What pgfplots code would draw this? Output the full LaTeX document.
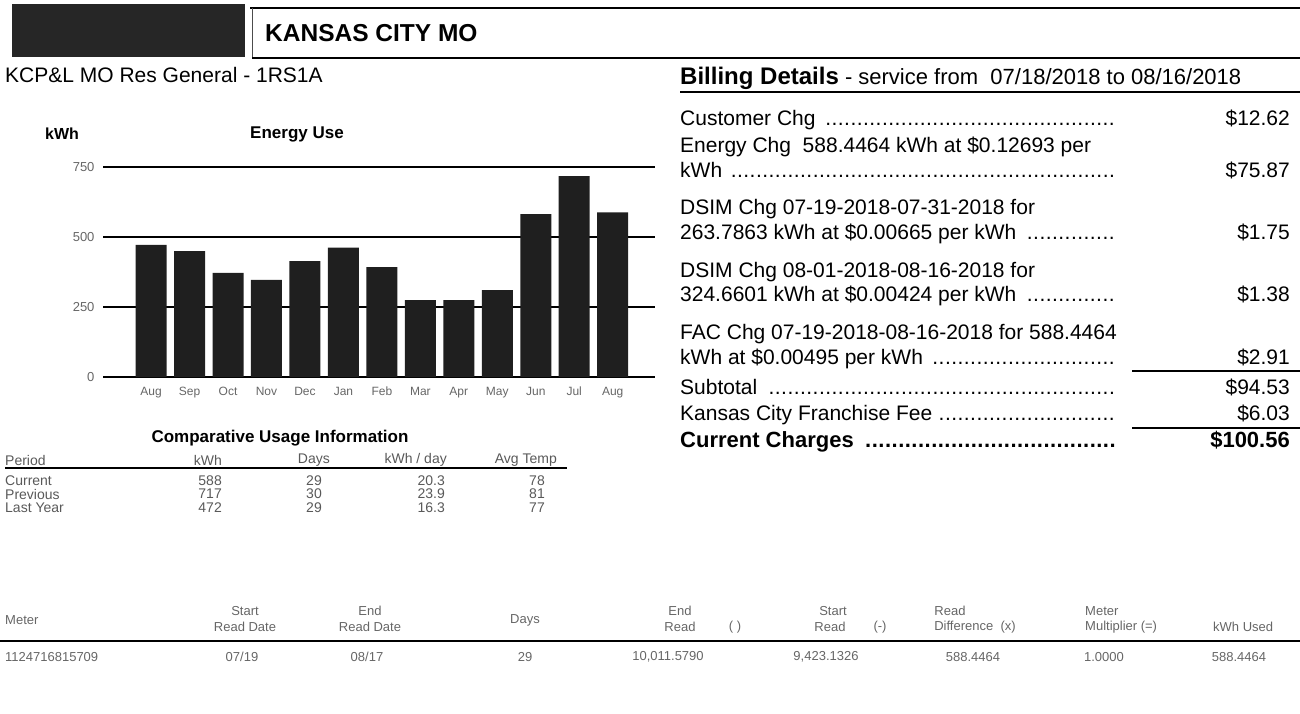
\documentclass[border=0pt]{standalone}
\usepackage{pgfplots}
\pgfplotsset{compat=1.18}
\usepackage{fontspec}
\setmainfont{Liberation Sans}
\newcommand{\fs}[1]{\fontsize{#1}{#1}\selectfont}
\newcommand{\lead}{\leaders\hbox to 0.3em{\hss.\hss}\hfill}
\begin{document}
\begin{tikzpicture}
\begin{axis}[
  at={(103pt,-377pt)}, anchor=south west, scale only axis,
  width=552pt, height=210pt,
  xmin=-1.25, xmax=13.1, ymin=0, ymax=750,
  axis line style={draw=none},
  /pgf/number format/assume math mode=true,
  ytick={0,250,500}, extra y ticks={750},
  extra y tick style={grid style={black,line width=2.8pt}},
  ymajorgrids, grid style={black, line width=1.4pt},
  major tick length=0pt,
  xtick={0,...,12},
  xticklabels={Aug,Sep,Oct,Nov,Dec,Jan,Feb,Mar,Apr,May,Jun,Jul,Aug},
  xticklabel style={font=\fs{12}, text=black!60, yshift=-6pt, text height=9pt, text depth=2pt},
  yticklabel style={font=\fs{13}, text=black!60, xshift=-5pt},
  ybar, bar width=31pt,
  clip=false,
]
\addplot[fill=black!88, draw=none] coordinates {
(0,472) (1,450) (2,372) (3,347) (4,414) (5,462) (6,392)
(7,275) (8,275) (9,310) (10,582) (11,717) (12,588)};
\end{axis}
\begin{scope}[x=1pt,y=-1pt,every node/.style={inner sep=0pt}]
\path[use as bounding box] (0,0) rectangle (1300,713);
% header
\fill[black!85] (12,4) rectangle (245,57);
\draw[line width=2pt] (250,8) -- (1300,8);
\draw[line width=0.6pt,black!70] (252,8) -- (252,58);
\draw[line width=1.2pt] (252,58) -- (1300,58);
\node[anchor=west,font=\fs{24.5}\bfseries] at (265,33) {KANSAS CITY MO};
\node[anchor=west,font=\fs{21}] at (5,75) {KCP\&L MO Res General - 1RS1A};
% chart titles
\node[font=\fs{16}\bfseries] at (62,134) {kWh};
\node[font=\fs{17}\bfseries] at (297,134) {Energy Use};
% comparative usage
\node[font=\fs{17}\bfseries] at (280,438) {Comparative Usage Information};
\begin{scope}[every node/.style={inner sep=0pt,font=\fs{14},text=black!65}]
\node[anchor=west] at (5,460) {Period};
\node[anchor=east] at (222,460) {kWh};
\node[anchor=east] at (330,460) {Days};
\node[anchor=east] at (447,460) {kWh / day};
\node[anchor=east] at (557,460) {Avg Temp};
\node[anchor=west] at (5,481) {Current};
\node[anchor=west] at (5,494) {Previous};
\node[anchor=west] at (5,508) {Last Year};
\node[anchor=east] at (222,481) {588};
\node[anchor=east] at (222,494) {717};
\node[anchor=east] at (222,508) {472};
\node[anchor=east] at (322,481) {29};
\node[anchor=east] at (322,494) {30};
\node[anchor=east] at (322,508) {29};
\node[anchor=east] at (445,481) {20.3};
\node[anchor=east] at (445,494) {23.9};
\node[anchor=east] at (445,508) {16.3};
\node[anchor=east] at (545,481) {78};
\node[anchor=east] at (545,494) {81};
\node[anchor=east] at (545,508) {77};
\end{scope}
\draw[line width=1.2pt] (5,468) -- (567,468);
% billing details
\node[anchor=base west] at (680,84) {\fs{24}\textbf{Billing Details}\fs{22} - service from\ \ 07/18/2018 to 08/16/2018};
\draw[line width=1.8pt] (680,92) -- (1300,92);
\begin{scope}[every node/.style={inner sep=0pt,font=\fs{21}}]
\node[anchor=base west] at (680,125) {\makebox[440pt][l]{Customer Chg \lead}};
\node[anchor=base east] at (1290,125) {\$12.62};
\node[anchor=base west] at (680,152) {Energy Chg\ \ 588.4464 kWh at \$0.12693 per};
\node[anchor=base west] at (680,177) {\makebox[440pt][l]{kWh \lead}};
\node[anchor=base east] at (1290,177) {\$75.87};
\node[anchor=base west] at (680,214) {DSIM Chg 07-19-2018-07-31-2018 for};
\node[anchor=base west] at (680,239) {\makebox[440pt][l]{263.7863 kWh at \$0.00665 per kWh \lead}};
\node[anchor=base east] at (1290,239) {\$1.75};
\node[anchor=base west] at (680,277) {DSIM Chg 08-01-2018-08-16-2018 for};
\node[anchor=base west] at (680,301) {\makebox[440pt][l]{324.6601 kWh at \$0.00424 per kWh \lead}};
\node[anchor=base east] at (1290,301) {\$1.38};
\node[anchor=base west] at (680,339) {FAC Chg 07-19-2018-08-16-2018 for 588.4464};
\node[anchor=base west] at (680,364) {\makebox[440pt][l]{kWh at \$0.00495 per kWh \lead}};
\node[anchor=base east] at (1290,364) {\$2.91};
\node[anchor=base west] at (680,394) {\makebox[440pt][l]{Subtotal \lead}};
\node[anchor=base east] at (1290,394) {\$94.53};
\node[anchor=base west] at (680,420) {\makebox[440pt][l]{Kansas City Franchise Fee \lead}};
\node[anchor=base east] at (1290,420) {\$6.03};
\node[anchor=base west,font=\fs{22}\bfseries] at (680,447) {\makebox[440pt][l]{Current Charges \lead}};
\node[anchor=base east,font=\fs{22}\bfseries] at (1290,447) {\$100.56};
\end{scope}
\draw[line width=1.5pt] (1132,371) -- (1300,371);
\draw[line width=1.5pt] (1132,428) -- (1300,428);
% meter table
\begin{scope}[every node/.style={inner sep=0pt,font=\fs{13},text=black!60}]
\node[anchor=west] at (5,620) {Meter};
\node at (245,611) {Start};
\node at (245,627) {Read Date};
\node at (370,611) {End};
\node at (370,627) {Read Date};
\node at (525,620) {Days};
\node at (680,611) {End};
\node at (680,627) {Read};
\node at (735,627) {( )};
\node at (833,611) {Start};
\node at (830,627) {Read};
\node at (880,627) {(-)};
\node at (950,611) {Read};
\node at (975,627) {Difference\ \ (x)};
\node[anchor=west] at (1085,611) {Meter};
\node[anchor=west] at (1085,627) {Multiplier (=)};
\node[anchor=west] at (1213,627) {kWh Used};
\node[anchor=west] at (5,657) {1124716815709};
\node at (242,657) {07/19};
\node at (367,657) {08/17};
\node at (525,657) {29};
\node at (668,657) {10,011.5790};
\node at (826,657) {9,423.1326};
\node at (973,657) {588.4464};
\node at (1104,657) {1.0000};
\node at (1239,657) {588.4464};
\end{scope}
\draw[line width=1.2pt] (0,641) -- (1300,641);
\end{scope}
\end{tikzpicture}
\end{document}
